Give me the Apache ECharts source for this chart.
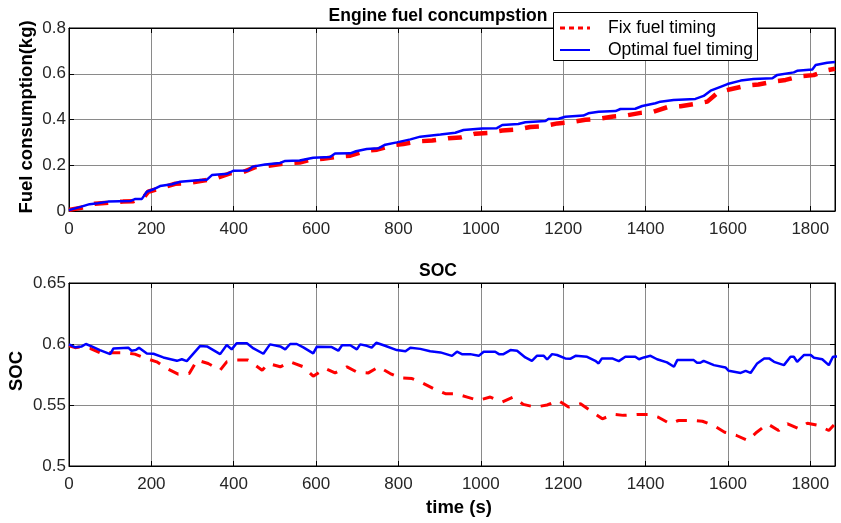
<!DOCTYPE html>
<html>
<head>
<meta charset="utf-8">
<script src="https://cdn.jsdelivr.net/npm/echarts@6/dist/echarts.min.js"></script>
<style>html,body{margin:0;padding:0;background:#fff}#c{width:841px;height:523px}</style>
</head>
<body>
<div id="c"></div>
<script>
// ---- data ----
const xTicks = [0, 200, 400, 600, 800, 1000, 1200, 1400, 1600, 1800];
const fuelTicks = [0, 0.2, 0.4, 0.6, 0.8];
const socTicks = [0.5, 0.55, 0.6, 0.65];
const seriesNames = ['Fix fuel timing', 'Optimal fuel timing'];

const fuelOptT = [0,30,50,70,95,150,160,177,189,205,221,250,270,320,335,347,385,399,435,446,476,513,525,560,593,634,646,683,697,723,751,768,796,829,853,902,938,958,1003,1039,1052,1091,1108,1157,1164,1189,1205,1249,1261,1286,1327,1339,1375,1392,1424,1436,1468,1521,1541,1558,1582,1599,1631,1662,1708,1720,1760,1768,1805,1813,1841,1860];
const fuelOptV = [0.004,0.019,0.03,0.034,0.041,0.044,0.052,0.053,0.084,0.095,0.109,0.117,0.128,0.135,0.137,0.157,0.163,0.176,0.177,0.194,0.203,0.21,0.219,0.221,0.233,0.236,0.251,0.252,0.261,0.271,0.274,0.29,0.3,0.313,0.325,0.334,0.342,0.354,0.361,0.362,0.376,0.38,0.388,0.393,0.402,0.403,0.412,0.417,0.427,0.434,0.437,0.446,0.447,0.459,0.471,0.478,0.485,0.49,0.503,0.526,0.543,0.555,0.57,0.577,0.58,0.595,0.606,0.613,0.619,0.638,0.648,0.651];

const fuelFixT = [0,30,63,95,131,156,165,180,192,221,258,289,323,355,391,420,452,476,530,560,585,617,654,683,724,748,788,812,853,882,921,950,987,1018,1052,1089,1120,1152,1186,1218,1254,1286,1322,1351,1388,1419,1453,1485,1521,1550,1577,1606,1645,1674,1711,1740,1776,1808,1840,1860];
const fuelFixV = [0.005,0.014,0.032,0.036,0.041,0.043,0.052,0.055,0.084,0.099,0.119,0.122,0.132,0.142,0.165,0.168,0.192,0.196,0.209,0.212,0.224,0.228,0.238,0.242,0.264,0.268,0.288,0.293,0.305,0.308,0.318,0.321,0.338,0.341,0.352,0.356,0.367,0.371,0.383,0.388,0.399,0.403,0.413,0.417,0.429,0.434,0.454,0.458,0.468,0.478,0.52,0.532,0.548,0.553,0.566,0.573,0.589,0.594,0.615,0.622];

const socOptT = [0,15,31,41,55,75,100,108,144,152,163,170,189,205,229,262,274,286,318,335,367,383,395,407,432,448,472,488,513,525,537,553,569,593,602,638,654,663,683,699,707,723,735,746,764,796,817,829,853,877,902,930,942,954,974,995,1007,1035,1044,1055,1072,1088,1108,1124,1136,1153,1161,1173,1185,1205,1218,1230,1258,1278,1286,1294,1319,1335,1351,1375,1384,1396,1412,1428,1452,1469,1477,1517,1525,1533,1541,1566,1594,1602,1631,1643,1655,1671,1688,1700,1712,1736,1752,1760,1768,1785,1801,1809,1829,1845,1855,1865];
const socOptV = [0.5997,0.5973,0.598,0.6,0.598,0.595,0.5917,0.5964,0.597,0.5945,0.5952,0.597,0.5923,0.592,0.589,0.5862,0.5875,0.586,0.5983,0.598,0.5917,0.5992,0.5956,0.6006,0.6006,0.5964,0.592,0.5997,0.598,0.5956,0.6,0.6,0.5972,0.5923,0.5978,0.5975,0.5945,0.599,0.599,0.5956,0.5997,0.5985,0.597,0.601,0.599,0.595,0.594,0.597,0.596,0.594,0.5931,0.5903,0.5937,0.5917,0.5917,0.5903,0.5937,0.5937,0.5917,0.5917,0.595,0.5945,0.589,0.5862,0.5903,0.5903,0.5873,0.5917,0.591,0.5882,0.588,0.5903,0.5895,0.5862,0.5841,0.5882,0.5882,0.586,0.5895,0.5895,0.5875,0.589,0.5903,0.5875,0.5849,0.5813,0.5868,0.5868,0.5846,0.5846,0.5862,0.5827,0.5808,0.578,0.5763,0.578,0.5763,0.5841,0.5882,0.5882,0.5854,0.5827,0.5895,0.5895,0.5854,0.591,0.591,0.5887,0.5875,0.5827,0.5895,0.5897];

const socFixT = [0,15,27,51,83,100,131,160,180,213,237,265,292,311,338,367,383,407,435,469,484,513,537,569,593,622,646,675,699,727,752,780,805,833,853,885,914,938,967,994,1023,1052,1079,1103,1132,1161,1188,1213,1242,1271,1295,1322,1346,1380,1407,1431,1460,1480,1514,1538,1565,1592,1621,1648,1670,1696,1723,1745,1772,1793,1820,1845,1860];
const socFixV = [0.5985,0.597,0.5975,0.5965,0.5917,0.5928,0.5928,0.5917,0.589,0.5854,0.58,0.5753,0.5758,0.5868,0.584,0.5785,0.5854,0.5868,0.5868,0.5785,0.584,0.5813,0.5854,0.5813,0.5736,0.58,0.5763,0.5813,0.577,0.5763,0.5813,0.5758,0.5722,0.5717,0.569,0.5635,0.5593,0.5593,0.5565,0.5538,0.5565,0.5524,0.5565,0.5505,0.5483,0.55,0.5538,0.5483,0.551,0.5442,0.5387,0.5423,0.5415,0.5423,0.5423,0.54,0.5346,0.5373,0.5373,0.5367,0.5332,0.5277,0.525,0.5209,0.5277,0.5346,0.5291,0.5346,0.5305,0.5351,0.5332,0.5291,0.5346];

const zip = (t, v) => t.map((x, i) => [x, v[i]]);

const FONT = 'Liberation Sans, Arial, Helvetica, sans-serif';
const TXT = '#262626';
const GRID_C = '#8a8a8a';
const RED = '#ff0000', BLUE = '#0000ff';

function xAx(grid, opts) {
  return Object.assign({
    type: 'value', gridIndex: grid, min: 0, max: 1860, interval: 200,
    axisLine: { show: true, onZero: false, lineStyle: { color: '#000', width: 1 } },
    axisTick: { show: true, inside: true, length: 5, lineStyle: { color: '#000' } },
    axisLabel: { show: true, fontSize: 17, color: TXT, fontFamily: FONT, margin: 10, showMaxLabel: false,
      formatter: v => xTicks.includes(v) ? String(v) : '' },
    splitLine: { show: true, lineStyle: { color: GRID_C, width: 1 } }
  }, opts || {});
}
function yAx(grid, min, max, interval, ticks, opts) {
  return Object.assign({
    type: 'value', gridIndex: grid, min: min, max: max, interval: interval,
    axisLine: { show: true, onZero: false, lineStyle: { color: '#000', width: 1 } },
    axisTick: { show: true, inside: true, length: 5, lineStyle: { color: '#000' } },
    axisLabel: { show: true, fontSize: 17, color: TXT, fontFamily: FONT, margin: 3,
      formatter: v => { const m = ticks.find(t => Math.abs(t - v) < 1e-9); return m === undefined ? '' : String(m); } },
    splitLine: { show: true, lineStyle: { color: GRID_C, width: 1 } }
  }, opts || {});
}

const chart = echarts.init(document.getElementById('c'), null, { renderer: 'canvas' });
chart.setOption({
  animation: false,
  backgroundColor: '#fff',
  grid: [
    { left: 69, top: 28, width: 766, height: 183, show: true, borderColor: '#000', borderWidth: 1, backgroundColor: '#fff', containLabel: false, outerBoundsMode: 'none' },
    { left: 69, top: 283, width: 766, height: 183, show: true, borderColor: '#000', borderWidth: 1, backgroundColor: '#fff', containLabel: false, outerBoundsMode: 'none' }
  ],
  xAxis: [
    xAx(0),
    xAx(1),
    xAx(0, { position: 'top', axisLabel: { show: false }, splitLine: { show: false } }),
    xAx(1, { position: 'top', axisLabel: { show: false }, splitLine: { show: false } })
  ],
  yAxis: [
    yAx(0, 0, 0.8, 0.2, fuelTicks),
    yAx(1, 0.5, 0.65, 0.05, socTicks),
    yAx(0, 0, 0.8, 0.2, fuelTicks, { position: 'right', axisLabel: { show: false }, splitLine: { show: false } }),
    yAx(1, 0.5, 0.65, 0.05, socTicks, { position: 'right', axisLabel: { show: false }, splitLine: { show: false } })
  ],
  series: [
    { name: seriesNames[0], type: 'line', xAxisIndex: 0, yAxisIndex: 0, symbol: 'none', data: zip(fuelFixT, fuelFixV),
      lineStyle: { color: RED, width: 4.5, type: [14, 12] }, itemStyle: { color: RED } },
    { name: seriesNames[1], type: 'line', xAxisIndex: 0, yAxisIndex: 0, symbol: 'none', data: zip(fuelOptT, fuelOptV),
      lineStyle: { color: BLUE, width: 2.5 }, itemStyle: { color: BLUE } },
    { name: seriesNames[0], type: 'line', xAxisIndex: 1, yAxisIndex: 1, symbol: 'none', data: zip(socFixT, socFixV),
      lineStyle: { color: RED, width: 3, type: [11, 10] }, itemStyle: { color: RED } },
    { name: seriesNames[1], type: 'line', xAxisIndex: 1, yAxisIndex: 1, symbol: 'none', data: zip(socOptT, socOptV),
      lineStyle: { color: BLUE, width: 2.5 }, itemStyle: { color: BLUE } }
  ],
  graphic: [
    { type: 'text', x: 438, y: 16, z: 100, style: { text: 'Engine fuel concumpstion', fontSize: 17.5, fontWeight: 'bold', fill: '#000', fontFamily: FONT, align: 'center', verticalAlign: 'middle' } },
    { type: 'text', x: 438, y: 271, z: 100, style: { text: 'SOC', fontSize: 17.5, fontWeight: 'bold', fill: '#000', fontFamily: FONT, align: 'center', verticalAlign: 'middle' } },
    { type: 'text', x: 459, y: 508, z: 100, style: { text: 'time (s)', fontSize: 18.5, fontWeight: 'bold', fill: '#000', fontFamily: FONT, align: 'center', verticalAlign: 'middle' } },
    { type: 'text', x: 27, y: 117, rotation: Math.PI / 2, z: 100, style: { text: 'Fuel consumption(kg)', fontSize: 18.5, fontWeight: 'bold', fill: '#000', fontFamily: FONT, align: 'center', verticalAlign: 'middle' } },
    { type: 'text', x: 17, y: 371, rotation: Math.PI / 2, z: 100, style: { text: 'SOC', fontSize: 18.5, fontWeight: 'bold', fill: '#000', fontFamily: FONT, align: 'center', verticalAlign: 'middle' } },
    // legend box
    { type: 'rect', z: 100, shape: { x: 553.5, y: 12.5, width: 204, height: 48 }, style: { fill: '#fff', stroke: '#000', lineWidth: 1 } },
    { type: 'line', z: 101, shape: { x1: 560, y1: 28, x2: 590, y2: 28 }, style: { stroke: RED, lineWidth: 3, lineDash: [5, 4] } },
    { type: 'text', z: 101, x: 608, y: 28, style: { text: seriesNames[0], fontSize: 17.5, fill: '#000', fontFamily: FONT, align: 'left', verticalAlign: 'middle' } },
    { type: 'line', z: 101, shape: { x1: 560, y1: 50, x2: 590, y2: 50 }, style: { stroke: BLUE, lineWidth: 2 } },
    { type: 'text', z: 101, x: 608, y: 50, style: { text: seriesNames[1], fontSize: 17.5, fill: '#000', fontFamily: FONT, align: 'left', verticalAlign: 'middle' } }
  ]
});
</script>
</body>
</html>
